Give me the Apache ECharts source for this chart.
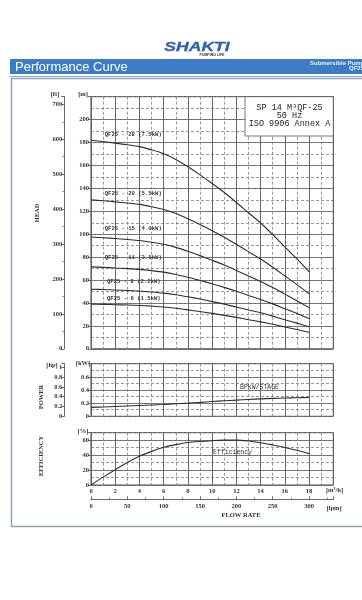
<!DOCTYPE html>
<html><head><meta charset="utf-8">
<script src="https://cdn.jsdelivr.net/npm/echarts@6/dist/echarts.min.js"></script>
<style>html,body{margin:0;padding:0;background:#fff}#c{width:362px;height:600px}</style>
</head><body><div id="c"></div>
<script>
// ---- data ----
const flow = [0,1,2,3,4,5,6,7,8,9,10,11,12,13,14,15,16,17,18]; // m3/h
const headQF25_28 = [182.0,180.9,179.5,178.1,176.4,173.6,170.2,165.2,158.8,151.8,144.2,136.4,127.7,118.7,109.8,99.7,89.0,78.4,67.2];
const headQF25_20 = [130.0,129.2,128.2,127.2,126.0,124.0,121.6,118.0,113.4,108.4,103.0,97.4,91.2,84.8,78.4,71.2,63.6,56.0,48.0];
const headQF25_15 = [97.5,96.9,96.2,95.4,94.5,93.0,91.2,88.5,85.1,81.3,77.3,73.1,68.4,63.6,58.8,53.4,47.7,42.0,36.0];
const headQF25_11 = [71.5,71.1,70.5,70.0,69.3,68.2,66.9,64.9,62.4,59.6,56.7,53.6,50.2,46.6,43.1,39.2,35.0,30.8,26.4];
const headQF25_8  = [52.0,51.7,51.3,50.9,50.4,49.6,48.6,47.2,45.4,43.4,41.2,39.0,36.5,33.9,31.4,28.5,25.4,22.4,19.2];
const headQF25_6  = [39.0,38.8,38.5,38.2,37.8,37.2,36.5,35.4,34.0,32.5,30.9,29.2,27.4,25.4,23.5,21.4,19.1,16.8,14.4];
const powerKW = [0.135,0.142,0.150,0.157,0.165,0.172,0.180,0.190,0.200,0.212,0.225,0.236,0.246,0.256,0.265,0.272,0.278,0.282,0.285];
const efficiency = [0,10.5,20.5,30,38.5,45,50.5,54,56.8,58.3,59.3,60,60,58.8,56.5,53.5,50.3,46.5,42];
const curveNames = ['QF25 - 28 (7.5kW)','QF25 - 20 (5.5kW)','QF25 - 15 (4.0kW)','QF25 - 11 (3.0kW)','QF25 - 8 (2.2kW)','QF25 - 6 (1.5kW)'];
const legendLines = ['SP 14 M\u00B3QF-25','50 Hz','ISO 9906 Annex A'];

// ---- chart ----
const chart = echarts.init(document.getElementById('c'), null, {renderer:'canvas', width:362, height:600});
const FONT = 'Liberation Serif';
const MONO = 'Liberation Mono';
const lab = (o) => Object.assign({show:true, fontFamily:FONT, fontSize:6.5, color:'#333', fontWeight:'bold'}, o||{});
const solid = {show:true, lineStyle:{color:'#5e5e5e', width:0.9, type:'solid'}};
const dashed = {show:true, lineStyle:{color:'#7e7e7e', width:0.8, type:[3,2]}};
const L = 91, W = 242.3;

function xa(gi, interval, split, pos, extra) {
  return Object.assign({type:'value', gridIndex:gi, position:pos, min:0, max:20, interval:interval,
    splitLine:split, axisLine:{show:false}, axisTick:{show:false}, axisLabel:{show:false}}, extra||{});
}
function ya(gi, pos, min, max, interval, split, extra) {
  return Object.assign({type:'value', gridIndex:gi, position:pos, min:min, max:max, interval:interval,
    splitLine:split, axisLine:{show:false}, axisTick:{show:false}, axisLabel:{show:false}}, extra||{});
}
const tickStyle = {show:true, length:3, lineStyle:{color:'#444', width:0.8}};
const fmt1 = v => String(Math.round(v*10)/10);

const headSets = [headQF25_28, headQF25_20, headQF25_15, headQF25_11, headQF25_8, headQF25_6];
const series = headSets.map((arr, i) => ({
  type:'line', name:curveNames[i], xAxisIndex:0, yAxisIndex:0, symbol:'none', smooth:0.3,
  lineStyle:{color:'#2e2e2e', width:1.1}, data: flow.map((f, k) => [f, arr[k]]), z:5
}));
series.push({type:'line', name:'BPkW/STAGE', xAxisIndex:2, yAxisIndex:3, symbol:'none', smooth:0.3,
  lineStyle:{color:'#2e2e2e', width:1.1}, data: flow.map((f,k)=>[f, powerKW[k]]), z:5});
series.push({type:'line', name:'Efficiency', xAxisIndex:4, yAxisIndex:6, symbol:'none', smooth:0.3,
  lineStyle:{color:'#2e2e2e', width:1.1}, data: flow.map((f,k)=>[f, efficiency[k]]), z:5});

const labelPos = [[104.7,135],[104.7,194],[104.7,229],[104.7,257.7],[107,281.3],[107,299]];
function txt(x, y, text, o) {
  o = o || {};
  return {type:'text', x:x, y:y, rotation:o.rot||0, z:100,
    style:{text:text, fill:o.fill||'#333', font:o.font||('bold 6.5px '+FONT),
      textAlign:o.align||'center', textVerticalAlign:'middle'}};
}

const graphics = [
  {type:'rect', shape:{x:11.5, y:78.5, width:360, height:448}, style:{fill:'#fff', stroke:'#8da2ba', lineWidth:1.5}, z:-10},
  {type:'rect', shape:{x:10, y:59, width:352, height:15}, style:{fill:'#3d7cc4'}, z:-5},
  {type:'line', shape:{x1:10, y1:76.5, x2:362, y2:76.5}, style:{stroke:'#86a8d2', lineWidth:1}, z:-5},
  txt(15, 67, 'Performance Curve', {fill:'#fff', font:'13px "Liberation Sans"', align:'left'}),
  txt(310, 63, 'Submersible Pump', {fill:'#e8f0fa', font:'bold 6px "Liberation Sans"', align:'left'}),
  txt(349, 68.5, 'QF25', {fill:'#e8f0fa', font:'bold 6px "Liberation Sans"', align:'left'}),
  {type:'text', x:197, y:47.5, scaleX:1.35, z:100, style:{text:'SHAKTI', fill:'#2f62b3', stroke:'#1d4a94', lineWidth:0.3,
    font:'italic 900 13px "Liberation Sans"', textAlign:'center', textVerticalAlign:'middle'}},
  txt(212, 55.5, 'PUMPING LIFE', {fill:'#333', font:'bold 3.5px "Liberation Sans"'}),
  // legend box
  {type:'rect', shape:{x:245, y:96.7, width:88.3, height:39.3}, style:{fill:'#fff', stroke:'#555', lineWidth:0.8}, z:90},
  txt(289.5, 107.3, legendLines[0], {font:'8.5px '+MONO, fill:'#222'}),
  txt(289.5, 115.7, legendLines[1], {font:'8.5px '+MONO, fill:'#222'}),
  txt(289.5, 124.0, legendLines[2], {font:'8.5px '+MONO, fill:'#222'}),
  // units and titles
  txt(83, 94, '[m]'), txt(55, 94, '[ft]'),
  txt(37, 213, 'HEAD', {rot:Math.PI/2}),
  txt(52, 365.7, '[hp]'), txt(83, 363.7, '[kW]'),
  txt(41, 397, 'POWER', {rot:Math.PI/2}),
  txt(83, 431.3, '[%]'),
  txt(41, 456, 'EFFICIENCY', {rot:Math.PI/2}),
  txt(334.5, 490.7, '[m\u00B3/h]'),
  txt(334, 508, '[lpm]'),
  txt(241, 515, 'FLOW RATE'),
  txt(259.5, 387.3, 'BPkW/STAGE', {font:'6.5px '+MONO}),
  txt(232.5, 452, 'Efficiency', {font:'6.5px '+MONO})
];
labelPos.forEach((p, i) => graphics.push(txt(p[0], p[1], curveNames[i], {font:'bold 5.6px '+MONO, align:'left'})));

chart.setOption({
  animation:false,
  backgroundColor:'#fff',
  grid:[
    {left:L, top:96.7, width:W, height:252.1, show:true, borderColor:'#444', borderWidth:1, backgroundColor:'transparent'},
    {left:L, top:363.7, width:W, height:52.6, show:true, borderColor:'#444', borderWidth:1, backgroundColor:'transparent'},
    {left:L, top:432.7, width:W, height:52.3, show:true, borderColor:'#444', borderWidth:1, backgroundColor:'transparent'}
  ],
  xAxis:[
    xa(0,1,dashed,'bottom'), xa(0,2,solid,'top'),
    xa(1,1,dashed,'bottom'), xa(1,2,solid,'top'),
    xa(2,1,dashed,'bottom',{axisLabel:lab({margin:3, formatter:v => (v%2===0 && v<20) ? String(v) : ''})}),
    xa(2,2,solid,'top'),
    {type:'value', gridIndex:2, position:'bottom', offset:14.3, min:0, max:1000/3, interval:50,
      splitLine:{show:false}, axisLine:{show:true, lineStyle:{color:'#444', width:0.8}},
      axisTick:{show:true, inside:true, length:3, lineStyle:{color:'#444', width:0.8}},
      minorTick:{show:true, splitNumber:2, length:2, lineStyle:{color:'#444', width:0.6}},
      axisLabel:lab({margin:4, formatter:v => (Math.abs(v%50)<1e-6) ? String(v) : ''})}
  ],
  yAxis:[
    ya(0,'left',0,220,20,solid,{axisTick:tickStyle, axisLabel:lab({margin:2, formatter:v => v<219 ? String(v) : ''})}),
    ya(0,'right',0,220,10,dashed),
    {type:'value', gridIndex:0, position:'left', offset:26.7, min:0, max:220*3.28084, interval:100,
      splitLine:{show:false}, axisLine:{show:true, lineStyle:{color:'#444', width:0.8}},
      axisTick:tickStyle, minorTick:{show:true, splitNumber:2, length:2, lineStyle:{color:'#444', width:0.6}},
      axisLabel:lab({margin:2, formatter:v => (Math.abs(v%100)<1e-6) ? String(v) : ''})},
    ya(1,'left',0,0.8,0.2,solid,{axisTick:tickStyle, axisLabel:lab({margin:2, formatter:v => v<0.79 ? fmt1(v) : ''})}),
    ya(1,'right',0,0.8,0.1,dashed),
    {type:'value', gridIndex:1, position:'left', offset:26.7, min:0, max:0.8/0.7457, interval:0.2,
      splitLine:{show:false}, axisLine:{show:true, lineStyle:{color:'#444', width:0.8}},
      axisTick:tickStyle,
      axisLabel:lab({margin:2, formatter:v => v<1.01 ? fmt1(v) : ''})},
    ya(2,'left',0,70,20,solid,{axisTick:tickStyle, axisLabel:lab({margin:2, formatter:v => v<69 ? String(v) : ''})}),
    ya(2,'right',0,70,10,dashed)
  ],
  graphic:{elements:graphics},
  series:series
});
</script>
</body></html>
